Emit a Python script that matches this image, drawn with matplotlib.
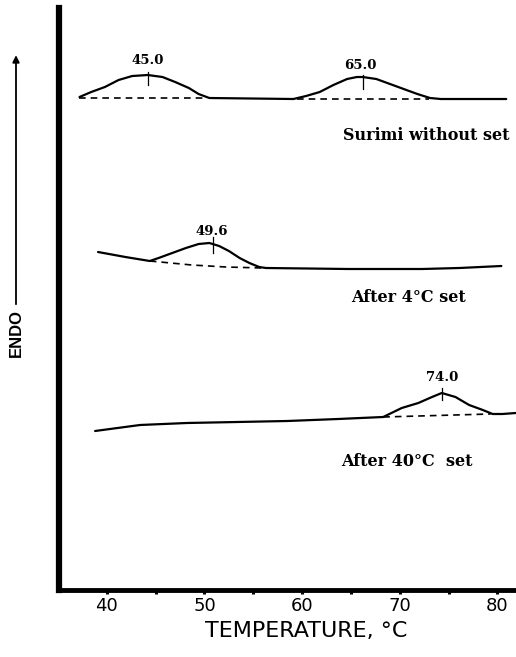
import matplotlib
matplotlib.use('Agg')
import matplotlib.pyplot as plt
from matplotlib.ticker import MultipleLocator

# DSC 曲线 (温度 °C, 相对吸热量 任意单位)
# Surimi without set
t1 = [37.2, 38.4, 39.8, 41.2, 42.6, 44.2, 45.7, 47.0, 48.4, 49.4, 50.5,
      59.1, 60.4, 61.8, 63.2, 64.6, 65.6, 66.2, 67.6, 69.0, 70.4, 71.8, 73.1, 74.2, 80.9]
v1 = [49.3, 49.8, 50.3, 51.0, 51.4, 51.5, 51.3, 50.8, 50.2, 49.6, 49.2,
      49.1, 49.4, 49.8, 50.5, 51.1, 51.3, 51.3, 51.1, 50.6, 50.1, 49.6, 49.2, 49.1, 49.1]
base1_t = [[37.2, 50.0], [59.5, 73.0]]
base1_v = [[49.2, 49.2], [49.15, 49.15]]

# After 4°C set
t2 = [39.1, 41.9, 44.4, 45.3, 46.7, 48.1, 49.4, 50.5, 51.5, 52.5, 53.6, 54.6,
      55.6, 56.3, 64.7, 72.3, 76.1, 80.4]
v2 = [33.8, 33.3, 32.9, 33.2, 33.7, 34.2, 34.6, 34.7, 34.4, 33.9, 33.2, 32.7,
      32.3, 32.2, 32.1, 32.1, 32.2, 32.4]
base2_t = [[44.4, 48.7, 52.2, 56.0]]
base2_v = [[32.9, 32.5, 32.3, 32.2]]

# After 40°C set
t3 = [38.8, 43.4, 48.2, 53.4, 58.5, 63.7, 68.3, 70.2, 71.9, 73.3, 74.3,
      75.7, 77.1, 78.5, 79.5, 80.5, 81.9]
v3 = [15.9, 16.5, 16.7, 16.8, 16.9, 17.1, 17.3, 18.2, 18.7, 19.3, 19.7,
      19.3, 18.5, 18.0, 17.6, 17.6, 17.7]
base3_t = [[68.3, 79.3]]
base3_v = [[17.3, 17.6]]

# 峰值标注
peak_labels = ['45.0', '65.0', '49.6', '74.0']
peak_t = [44.2, 66.2, 50.9, 74.3]
peak_lo = [50.5, 50.1, 33.7, 19.0]
peak_hi = [51.8, 51.5, 35.3, 20.2]
label_t = [44.2, 66.0, 50.7, 74.3]
label_v = [53.0, 52.5, 35.9, 21.2]

curve_names = ['Surimi without set', 'After 4\u00b0C set', 'After 40\u00b0C  set']
name_t = [64.2, 65.0, 64.0]
name_v = [45.5, 29.3, 12.8]

fig = plt.figure(figsize=(5.16, 6.57), dpi=100)
ax = fig.add_axes([0.1143, 0.102, 0.8857, 0.8858])

for t, v in [(t1, v1), (t2, v2), (t3, v3)]:
    ax.plot(t, v, color='black', lw=1.6, solid_capstyle='round', solid_joinstyle='round')
for bt, bv in [(base1_t, base1_v), (base2_t, base2_v), (base3_t, base3_v)]:
    for t, v in zip(bt, bv):
        ax.plot(t, v, color='black', lw=1.2, ls=(0, (4, 3)))

serif = dict(family='DejaVu Serif', color='black')
for lab, pt, lo, hi, lt, lv in zip(peak_labels, peak_t, peak_lo, peak_hi, label_t, label_v):
    ax.plot([pt, pt], [lo, hi], color='black', lw=0.9)
    ax.text(lt, lv, lab, ha='center', va='center', fontsize=9.5, weight='bold', **serif)

for name, nt, nv in zip(curve_names, name_t, name_v):
    ax.text(nt, nv, name, ha='left', va='center', fontsize=11.5, weight='bold', **serif)

ax.set_xlim(35.1, 81.9)
ax.set_ylim(0, 58.2)
ax.xaxis.set_major_locator(MultipleLocator(10))
ax.xaxis.set_minor_locator(MultipleLocator(5))
ax.set_yticks([])
ax.tick_params(axis='x', which='both', direction='out', length=3, width=2.2, pad=2,
               labelsize=13)
for lab in ax.get_xticklabels():
    lab.set_family('DejaVu Sans')

for s in ['top', 'right']:
    ax.spines[s].set_visible(False)
ax.spines['left'].set_linewidth(4.5)
ax.spines['bottom'].set_linewidth(3.5)

ax.set_xlabel('TEMPERATURE, \u00b0C', family='DejaVu Sans', fontsize=16)
ax.xaxis.label.set_va('center')
ax.xaxis.set_label_coords(0.54, -0.0704)

# ENDO 箭头
fig.text(0.031, 0.493, 'ENDO', rotation=90, ha='center', va='center',
         family='Liberation Sans', weight='bold', fontsize=12)
ax.annotate('', xy=(0.031, 0.916), xytext=(0.031, 0.537),
            xycoords='figure fraction', textcoords='figure fraction',
            arrowprops=dict(arrowstyle='-|>', color='black', lw=1.3,
                            mutation_scale=10, shrinkA=0, shrinkB=0))

fig.savefig('out.png', dpi=100)
